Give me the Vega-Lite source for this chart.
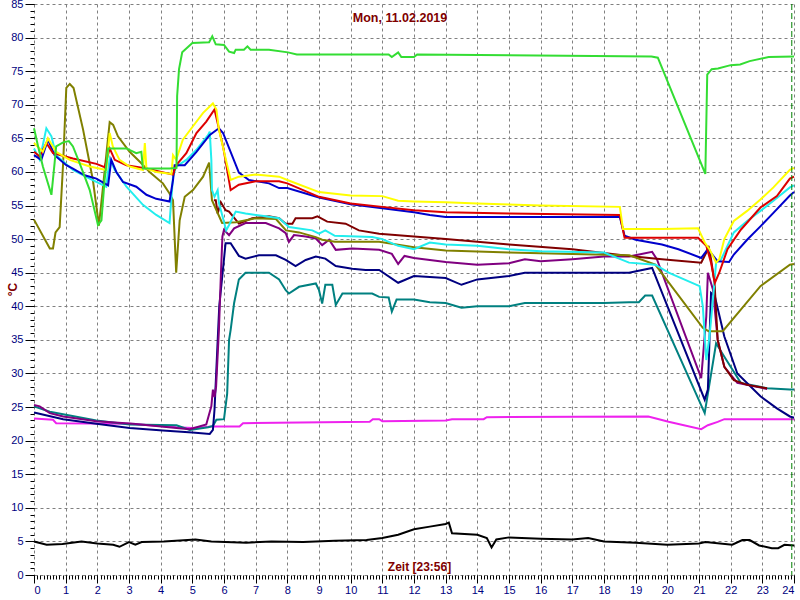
{
"$schema": "https://vega.github.io/schema/vega-lite/v6.json",
"width": 760, "height": 571,
"autosize": {"type": "none"},
"padding": {"left": 34, "top": 4, "right": 6, "bottom": 25},
"background": "white",
"title": {"text": "Mon, 11.02.2019", "color": "#800000", "fontSize": 12.5, "fontWeight": "bold", "font": "Liberation Sans", "offset": 0, "dy": 26, "dx": -14},
"config": {"view": {"stroke": null}, "axis": {"labelFont": "Liberation Sans", "titleFont": "Liberation Sans"}},
"datasets": {
"lines": [
{"s":"T12","h":0,"v":5},{"s":"T12","h":0.4,"v":4.5},{"s":"T12","h":0.9,"v":4.6},{"s":"T12","h":1.5,"v":5},{"s":"T12","h":2,"v":4.7},{"s":"T12","h":2.5,"v":4.5},{"s":"T12","h":2.7,"v":4.2},{"s":"T12","h":3,"v":4.9},{"s":"T12","h":3.2,"v":4.5},{"s":"T12","h":3.4,"v":4.9},{"s":"T12","h":4.1,"v":5},{"s":"T12","h":5.1,"v":5.3},{"s":"T12","h":5.6,"v":5},{"s":"T12","h":6.7,"v":4.8},{"s":"T12","h":7.5,"v":5},{"s":"T12","h":8.5,"v":4.9},{"s":"T12","h":9.5,"v":5.1},{"s":"T12","h":10.5,"v":5.2},{"s":"T12","h":11,"v":5.5},{"s":"T12","h":11.5,"v":6},{"s":"T12","h":12,"v":6.8},{"s":"T12","h":12.5,"v":7.2},{"s":"T12","h":13,"v":7.6},{"s":"T12","h":13.1,"v":7.8},{"s":"T12","h":13.2,"v":6.2},{"s":"T12","h":14,"v":6},{"s":"T12","h":14.3,"v":5.5},{"s":"T12","h":14.45,"v":4.1},{"s":"T12","h":14.6,"v":5.3},{"s":"T12","h":15,"v":5.6},{"s":"T12","h":16,"v":5.4},{"s":"T12","h":17,"v":5.3},{"s":"T12","h":17.5,"v":5.5},{"s":"T12","h":18,"v":5},{"s":"T12","h":19,"v":4.8},{"s":"T12","h":20,"v":4.5},{"s":"T12","h":21,"v":4.7},{"s":"T12","h":21.2,"v":4.9},{"s":"T12","h":22.05,"v":4.5},{"s":"T12","h":22.37,"v":5.2},{"s":"T12","h":22.6,"v":5.2},{"s":"T12","h":22.9,"v":4.4},{"s":"T12","h":23.3,"v":4},{"s":"T12","h":23.5,"v":4},{"s":"T12","h":23.7,"v":4.5},{"s":"T12","h":24,"v":4.4},

{"s":"T11","h":0,"v":23.3},{"s":"T11","h":0.6,"v":23.1},{"s":"T11","h":0.7,"v":22.6},{"s":"T11","h":3,"v":22.5},{"s":"T11","h":4.5,"v":22},{"s":"T11","h":5,"v":21.9},{"s":"T11","h":5.65,"v":22.1},{"s":"T11","h":6.49,"v":22.1},{"s":"T11","h":6.6,"v":22.6},{"s":"T11","h":10.6,"v":22.8},{"s":"T11","h":10.7,"v":23.2},{"s":"T11","h":10.9,"v":23.2},{"s":"T11","h":11,"v":22.9},{"s":"T11","h":13,"v":23},{"s":"T11","h":13.2,"v":23.2},{"s":"T11","h":14.2,"v":23.2},{"s":"T11","h":14.3,"v":23.5},{"s":"T11","h":19.4,"v":23.6},{"s":"T11","h":20.04,"v":22.8},{"s":"T11","h":21.07,"v":21.7},{"s":"T11","h":21.28,"v":22.3},{"s":"T11","h":21.59,"v":22.8},{"s":"T11","h":21.8,"v":23.2},{"s":"T11","h":24,"v":23.2},

{"s":"T10","h":0,"v":25.1},{"s":"T10","h":0.5,"v":24.3},{"s":"T10","h":1.97,"v":23},{"s":"T10","h":3.02,"v":22.4},{"s":"T10","h":4.5,"v":22.3},{"s":"T10","h":4.92,"v":21.6},{"s":"T10","h":5.5,"v":22},{"s":"T10","h":5.65,"v":22.2},{"s":"T10","h":5.76,"v":23.1},{"s":"T10","h":6.0,"v":23.2},{"s":"T10","h":6.1,"v":27},{"s":"T10","h":6.16,"v":35},{"s":"T10","h":6.21,"v":36.5},{"s":"T10","h":6.32,"v":40.5},{"s":"T10","h":6.47,"v":44},{"s":"T10","h":6.68,"v":45},{"s":"T10","h":7.42,"v":45},{"s":"T10","h":7.74,"v":44},{"s":"T10","h":7.95,"v":42.4},{"s":"T10","h":8.05,"v":41.9},{"s":"T10","h":8.37,"v":42.9},{"s":"T10","h":8.9,"v":43.4},{"s":"T10","h":9.0,"v":42.4},{"s":"T10","h":9.1,"v":40.4},{"s":"T10","h":9.2,"v":43.2},{"s":"T10","h":9.42,"v":43.2},{"s":"T10","h":9.53,"v":40.2},{"s":"T10","h":9.74,"v":41.9},{"s":"T10","h":10.68,"v":41.9},{"s":"T10","h":10.9,"v":41.4},{"s":"T10","h":11.2,"v":41.3},{"s":"T10","h":11.3,"v":39.2},{"s":"T10","h":11.45,"v":41},{"s":"T10","h":12,"v":41},{"s":"T10","h":12.5,"v":40.6},{"s":"T10","h":13,"v":40.5},{"s":"T10","h":13.5,"v":39.8},{"s":"T10","h":14,"v":40},{"s":"T10","h":15,"v":40},{"s":"T10","h":15.5,"v":40.5},{"s":"T10","h":18,"v":40.5},{"s":"T10","h":18.79,"v":40.6},{"s":"T10","h":19.1,"v":40.6},{"s":"T10","h":19.3,"v":41.6},{"s":"T10","h":19.52,"v":41.6},{"s":"T10","h":21.18,"v":24.1},{"s":"T10","h":21.54,"v":34.5},{"s":"T10","h":21.8,"v":32.5},{"s":"T10","h":22.32,"v":28.6},{"s":"T10","h":23.15,"v":27.8},{"s":"T10","h":23.87,"v":27.6},{"s":"T10","h":24,"v":27.6},

{"s":"T09","h":0,"v":24.2},{"s":"T09","h":0.92,"v":23.2},{"s":"T09","h":1.97,"v":22.5},{"s":"T09","h":3.02,"v":21.9},{"s":"T09","h":4.07,"v":21.5},{"s":"T09","h":5.0,"v":21.2},{"s":"T09","h":5.55,"v":21.0},{"s":"T09","h":5.65,"v":21.6},{"s":"T09","h":5.7,"v":24.6},{"s":"T09","h":5.85,"v":40},{"s":"T09","h":6.05,"v":49.4},{"s":"T09","h":6.21,"v":49.4},{"s":"T09","h":6.47,"v":47.5},{"s":"T09","h":6.68,"v":47.1},{"s":"T09","h":7.1,"v":47.6},{"s":"T09","h":7.64,"v":47.6},{"s":"T09","h":7.95,"v":46.9},{"s":"T09","h":8.26,"v":46},{"s":"T09","h":8.58,"v":46.9},{"s":"T09","h":8.9,"v":47.4},{"s":"T09","h":9.2,"v":47.1},{"s":"T09","h":9.53,"v":46},{"s":"T09","h":10.05,"v":45.6},{"s":"T09","h":10.47,"v":45.4},{"s":"T09","h":10.9,"v":45.4},{"s":"T09","h":11.5,"v":43.5},{"s":"T09","h":12,"v":44.5},{"s":"T09","h":13,"v":44.2},{"s":"T09","h":13.5,"v":43.2},{"s":"T09","h":14,"v":44},{"s":"T09","h":15,"v":44.5},{"s":"T09","h":15.5,"v":45},{"s":"T09","h":17,"v":45},{"s":"T09","h":18.79,"v":45},{"s":"T09","h":19.52,"v":45.7},{"s":"T09","h":21.18,"v":26.1},{"s":"T09","h":21.28,"v":27.6},{"s":"T09","h":21.38,"v":42},{"s":"T09","h":21.5,"v":41.5},{"s":"T09","h":21.8,"v":35.5},{"s":"T09","h":22.21,"v":30},{"s":"T09","h":22.94,"v":26.6},{"s":"T09","h":23.46,"v":24.8},{"s":"T09","h":23.87,"v":23.6},{"s":"T09","h":24,"v":23.4},

{"s":"T08","h":0,"v":25.3},{"s":"T08","h":0.18,"v":25.1},{"s":"T08","h":0.5,"v":24.1},{"s":"T08","h":0.92,"v":23.6},{"s":"T08","h":1.97,"v":22.9},{"s":"T08","h":3.13,"v":22.5},{"s":"T08","h":4.5,"v":21.9},{"s":"T08","h":4.92,"v":21.7},{"s":"T08","h":5.44,"v":22.4},{"s":"T08","h":5.6,"v":25.1},{"s":"T08","h":5.65,"v":27.6},{"s":"T08","h":5.7,"v":26.5},{"s":"T08","h":5.75,"v":28},{"s":"T08","h":5.84,"v":36.5},{"s":"T08","h":5.9,"v":44.5},{"s":"T08","h":5.95,"v":50.4},{"s":"T08","h":6.0,"v":51.4},{"s":"T08","h":6.16,"v":50.6},{"s":"T08","h":6.32,"v":51.6},{"s":"T08","h":6.68,"v":52.4},{"s":"T08","h":7.32,"v":52.4},{"s":"T08","h":7.74,"v":51.6},{"s":"T08","h":7.95,"v":50.9},{"s":"T08","h":8.05,"v":49.6},{"s":"T08","h":8.21,"v":50.6},{"s":"T08","h":8.58,"v":50.4},{"s":"T08","h":8.9,"v":50.1},{"s":"T08","h":9.1,"v":49.1},{"s":"T08","h":9.32,"v":49.9},{"s":"T08","h":9.53,"v":48.4},{"s":"T08","h":10.05,"v":48.6},{"s":"T08","h":10.9,"v":48.4},{"s":"T08","h":11.3,"v":47.8},{"s":"T08","h":11.5,"v":46.3},{"s":"T08","h":11.7,"v":47.5},{"s":"T08","h":12,"v":47.2},{"s":"T08","h":13,"v":46.6},{"s":"T08","h":14,"v":46.2},{"s":"T08","h":15,"v":46.4},{"s":"T08","h":15.5,"v":47},{"s":"T08","h":16,"v":46.7},{"s":"T08","h":17,"v":47},{"s":"T08","h":18,"v":47.4},{"s":"T08","h":18.79,"v":47.4},{"s":"T08","h":19.52,"v":48.1},{"s":"T08","h":19.67,"v":47},{"s":"T08","h":21.07,"v":29.3},{"s":"T08","h":21.23,"v":38.5},{"s":"T08","h":21.28,"v":45},{"s":"T08","h":21.44,"v":42.5},{"s":"T08","h":21.59,"v":35},{"s":"T08","h":21.8,"v":31},{"s":"T08","h":22.21,"v":28.6},{"s":"T08","h":23.15,"v":27.7},

{"s":"T07","h":5.68,"v":55.8},{"s":"T07","h":5.74,"v":55.8},{"s":"T07","h":5.8,"v":53.8},{"s":"T07","h":5.9,"v":55.5},{"s":"T07","h":6.05,"v":54.3},{"s":"T07","h":6.16,"v":54.1},{"s":"T07","h":6.47,"v":52.3},{"s":"T07","h":6.89,"v":53.1},{"s":"T07","h":7.42,"v":53.4},{"s":"T07","h":7.74,"v":53.1},{"s":"T07","h":7.95,"v":52.3},{"s":"T07","h":8.16,"v":52.3},{"s":"T07","h":8.26,"v":53.1},{"s":"T07","h":8.79,"v":53.1},{"s":"T07","h":8.95,"v":53.4},{"s":"T07","h":9.26,"v":52.6},{"s":"T07","h":9.84,"v":52.3},{"s":"T07","h":10.26,"v":51.3},{"s":"T07","h":10.9,"v":50.8},{"s":"T07","h":13,"v":50},{"s":"T07","h":15,"v":49.2},{"s":"T07","h":17,"v":48.5},{"s":"T07","h":18.79,"v":47.5},{"s":"T07","h":19.83,"v":47},{"s":"T07","h":21.07,"v":46.5},{"s":"T07","h":21.23,"v":48},{"s":"T07","h":21.3,"v":49},{"s":"T07","h":21.38,"v":47},{"s":"T07","h":21.49,"v":43.5},{"s":"T07","h":21.59,"v":35},{"s":"T07","h":21.8,"v":31},{"s":"T07","h":22.1,"v":29},{"s":"T07","h":22.52,"v":28.3},{"s":"T07","h":23.15,"v":27.8},

{"s":"T06","h":0,"v":52.9},{"s":"T06","h":0.5,"v":48.6},{"s":"T06","h":0.6,"v":48.6},{"s":"T06","h":0.68,"v":51},{"s":"T06","h":0.81,"v":51.8},{"s":"T06","h":0.92,"v":61.3},{"s":"T06","h":1.02,"v":72.5},{"s":"T06","h":1.13,"v":73.1},{"s":"T06","h":1.25,"v":72.5},{"s":"T06","h":1.55,"v":66.3},{"s":"T06","h":1.86,"v":58.8},{"s":"T06","h":2.05,"v":52},{"s":"T06","h":2.18,"v":57.8},{"s":"T06","h":2.39,"v":67.4},{"s":"T06","h":2.5,"v":67},{"s":"T06","h":2.65,"v":65.3},{"s":"T06","h":3.02,"v":63},{"s":"T06","h":3.39,"v":61.3},{"s":"T06","h":3.65,"v":60},{"s":"T06","h":4.07,"v":58.3},{"s":"T06","h":4.28,"v":56.8},{"s":"T06","h":4.39,"v":55.8},{"s":"T06","h":4.49,"v":45},{"s":"T06","h":4.6,"v":52.8},{"s":"T06","h":4.76,"v":56.3},{"s":"T06","h":5.02,"v":57.3},{"s":"T06","h":5.34,"v":59.3},{"s":"T06","h":5.53,"v":61.4},{"s":"T06","h":5.62,"v":55.8},{"s":"T06","h":5.94,"v":52.4},{"s":"T06","h":6.38,"v":52.5},{"s":"T06","h":7.0,"v":53.1},{"s":"T06","h":7.64,"v":53},{"s":"T06","h":7.96,"v":51.3},{"s":"T06","h":8.37,"v":51},{"s":"T06","h":8.9,"v":50.3},{"s":"T06","h":9.1,"v":49.9},{"s":"T06","h":9.5,"v":49.6},{"s":"T06","h":10.9,"v":49.6},{"s":"T06","h":12,"v":48.8},{"s":"T06","h":13,"v":48.3},{"s":"T06","h":15,"v":48},{"s":"T06","h":17,"v":47.8},{"s":"T06","h":18.8,"v":47.6},{"s":"T06","h":19.62,"v":46.2},{"s":"T06","h":21.12,"v":36.8},{"s":"T06","h":21.3,"v":36.3},{"s":"T06","h":21.75,"v":36.3},{"s":"T06","h":22.94,"v":43},{"s":"T06","h":23.87,"v":46.2},{"s":"T06","h":24,"v":46.3},

{"s":"T05","h":0,"v":63.5},{"s":"T05","h":0.18,"v":61.8},{"s":"T05","h":0.39,"v":66.5},{"s":"T05","h":0.55,"v":65.3},{"s":"T05","h":0.7,"v":62.5},{"s":"T05","h":1.23,"v":60.3},{"s":"T05","h":1.76,"v":59},{"s":"T05","h":2.28,"v":57.8},{"s":"T05","h":2.39,"v":62},{"s":"T05","h":2.55,"v":60.3},{"s":"T05","h":2.92,"v":57.8},{"s":"T05","h":3.44,"v":55.1},{"s":"T05","h":3.86,"v":53.6},{"s":"T05","h":4.28,"v":52.4},{"s":"T05","h":4.39,"v":59.3},{"s":"T05","h":4.49,"v":60.8},{"s":"T05","h":4.81,"v":61.8},{"s":"T05","h":5.13,"v":63.3},{"s":"T05","h":5.5,"v":65.5},{"s":"T05","h":5.55,"v":66},{"s":"T05","h":5.6,"v":61.8},{"s":"T05","h":5.62,"v":57.3},{"s":"T05","h":5.7,"v":56.3},{"s":"T05","h":5.8,"v":57.3},{"s":"T05","h":5.84,"v":55.4},{"s":"T05","h":6.07,"v":51.3},{"s":"T05","h":6.16,"v":52.1},{"s":"T05","h":6.37,"v":54.1},{"s":"T05","h":6.68,"v":53.8},{"s":"T05","h":7.32,"v":53.4},{"s":"T05","h":7.74,"v":53.1},{"s":"T05","h":8.05,"v":51.8},{"s":"T05","h":8.79,"v":51.3},{"s":"T05","h":9.0,"v":50.8},{"s":"T05","h":9.2,"v":51.3},{"s":"T05","h":9.5,"v":50.5},{"s":"T05","h":10.68,"v":50.3},{"s":"T05","h":11,"v":50},{"s":"T05","h":11.5,"v":49},{"s":"T05","h":12,"v":48.5},{"s":"T05","h":12.5,"v":49.5},{"s":"T05","h":13,"v":49.2},{"s":"T05","h":14,"v":49},{"s":"T05","h":15,"v":48.5},{"s":"T05","h":16,"v":48.2},{"s":"T05","h":18,"v":48},{"s":"T05","h":18.79,"v":46.5},{"s":"T05","h":19.62,"v":46.2},{"s":"T05","h":20.04,"v":45},{"s":"T05","h":21.02,"v":43},{"s":"T05","h":21.12,"v":40},{"s":"T05","h":21.23,"v":32},{"s":"T05","h":21.33,"v":35.5},{"s":"T05","h":21.44,"v":41},{"s":"T05","h":21.54,"v":46.5},{"s":"T05","h":21.7,"v":47},{"s":"T05","h":22.1,"v":51},{"s":"T05","h":22.52,"v":52.7},{"s":"T05","h":22.94,"v":54.2},{"s":"T05","h":23.35,"v":55.7},{"s":"T05","h":23.87,"v":57.7},{"s":"T05","h":24,"v":58},

{"s":"T04","h":0,"v":62.5},{"s":"T04","h":0.23,"v":61.8},{"s":"T04","h":0.44,"v":64.8},{"s":"T04","h":0.65,"v":62.5},{"s":"T04","h":1.02,"v":61},{"s":"T04","h":1.23,"v":60.5},{"s":"T04","h":1.6,"v":59.5},{"s":"T04","h":1.97,"v":59},{"s":"T04","h":2.34,"v":58},{"s":"T04","h":2.44,"v":61.8},{"s":"T04","h":2.6,"v":60},{"s":"T04","h":2.81,"v":58.5},{"s":"T04","h":3.23,"v":57.8},{"s":"T04","h":3.55,"v":56.6},{"s":"T04","h":3.86,"v":56},{"s":"T04","h":4.28,"v":55.6},{"s":"T04","h":4.39,"v":58.8},{"s":"T04","h":4.44,"v":61},{"s":"T04","h":4.76,"v":61},{"s":"T04","h":5.13,"v":63},{"s":"T04","h":5.55,"v":65.5},{"s":"T04","h":5.84,"v":66.5},{"s":"T04","h":5.97,"v":65.8},{"s":"T04","h":6.47,"v":59.9},{"s":"T04","h":6.79,"v":58.8},{"s":"T04","h":7.42,"v":58.3},{"s":"T04","h":7.74,"v":57.6},{"s":"T04","h":8,"v":57.6},{"s":"T04","h":9,"v":56.2},{"s":"T04","h":10,"v":55.2},{"s":"T04","h":11,"v":54.6},{"s":"T04","h":12,"v":54},{"s":"T04","h":12.5,"v":53.6},{"s":"T04","h":13,"v":53.3},{"s":"T04","h":18.5,"v":53.3},{"s":"T04","h":18.65,"v":50.5},{"s":"T04","h":19,"v":49.9},{"s":"T04","h":19.83,"v":49.2},{"s":"T04","h":20.35,"v":48.5},{"s":"T04","h":21.07,"v":47.2},{"s":"T04","h":21.28,"v":48.5},{"s":"T04","h":21.59,"v":46.7},{"s":"T04","h":21.95,"v":46.6},{"s":"T04","h":22.1,"v":47.7},{"s":"T04","h":22.52,"v":49.9},{"s":"T04","h":22.94,"v":51.9},{"s":"T04","h":23.35,"v":53.9},{"s":"T04","h":23.87,"v":56.5},{"s":"T04","h":24,"v":57},

{"s":"T03","h":0,"v":63},{"s":"T03","h":0.18,"v":62.3},{"s":"T03","h":0.39,"v":64.3},{"s":"T03","h":0.6,"v":62.8},{"s":"T03","h":1.23,"v":62},{"s":"T03","h":1.97,"v":61.2},{"s":"T03","h":2.23,"v":60.7},{"s":"T03","h":2.39,"v":63.5},{"s":"T03","h":2.55,"v":61.8},{"s":"T03","h":2.92,"v":61},{"s":"T03","h":3.55,"v":60.5},{"s":"T03","h":4.39,"v":59.6},{"s":"T03","h":4.49,"v":61},{"s":"T03","h":4.81,"v":62.8},{"s":"T03","h":5.13,"v":65.8},{"s":"T03","h":5.44,"v":67.5},{"s":"T03","h":5.7,"v":69.3},{"s":"T03","h":5.97,"v":63.8},{"s":"T03","h":6.21,"v":57.3},{"s":"T03","h":6.47,"v":58.1},{"s":"T03","h":7.0,"v":58.6},{"s":"T03","h":7.74,"v":58.6},{"s":"T03","h":8,"v":58.3},{"s":"T03","h":9,"v":56.3},{"s":"T03","h":10,"v":55.3},{"s":"T03","h":11,"v":54.8},{"s":"T03","h":12,"v":54.3},{"s":"T03","h":13,"v":54},{"s":"T03","h":15,"v":53.8},{"s":"T03","h":18.5,"v":53.6},{"s":"T03","h":18.65,"v":50.2},{"s":"T03","h":20.97,"v":50.2},{"s":"T03","h":21.23,"v":49},{"s":"T03","h":21.38,"v":46.5},{"s":"T03","h":21.5,"v":43.5},{"s":"T03","h":21.64,"v":45},{"s":"T03","h":21.9,"v":48.5},{"s":"T03","h":22.32,"v":51.4},{"s":"T03","h":22.94,"v":54.7},{"s":"T03","h":23.46,"v":56.4},{"s":"T03","h":23.87,"v":59},{"s":"T03","h":24,"v":59.3},

{"s":"T02","h":0,"v":64.3},{"s":"T02","h":0.28,"v":63},{"s":"T02","h":0.44,"v":65},{"s":"T02","h":0.7,"v":63},{"s":"T02","h":1.13,"v":61.8},{"s":"T02","h":1.76,"v":60.8},{"s":"T02","h":2.28,"v":60.3},{"s":"T02","h":2.39,"v":65.8},{"s":"T02","h":2.49,"v":63.8},{"s":"T02","h":2.7,"v":61.8},{"s":"T02","h":3.02,"v":60.8},{"s":"T02","h":3.44,"v":60.3},{"s":"T02","h":3.5,"v":64.3},{"s":"T02","h":3.55,"v":60.5},{"s":"T02","h":3.86,"v":60},{"s":"T02","h":4.34,"v":59.7},{"s":"T02","h":4.39,"v":62.5},{"s":"T02","h":4.49,"v":61.8},{"s":"T02","h":4.7,"v":64.8},{"s":"T02","h":5.02,"v":66.8},{"s":"T02","h":5.34,"v":68.8},{"s":"T02","h":5.65,"v":70.2},{"s":"T02","h":5.76,"v":69.3},{"s":"T02","h":5.84,"v":66.3},{"s":"T02","h":6.21,"v":58.8},{"s":"T02","h":6.47,"v":59.3},{"s":"T02","h":7.0,"v":59.6},{"s":"T02","h":7.74,"v":59.3},{"s":"T02","h":8,"v":58.8},{"s":"T02","h":9,"v":57},{"s":"T02","h":10,"v":56.5},{"s":"T02","h":11,"v":56.4},{"s":"T02","h":11.5,"v":55.7},{"s":"T02","h":12,"v":55.6},{"s":"T02","h":13,"v":55.5},{"s":"T02","h":14,"v":55.3},{"s":"T02","h":16,"v":55},{"s":"T02","h":18.5,"v":54.8},{"s":"T02","h":18.6,"v":51.5},{"s":"T02","h":19.83,"v":51.5},{"s":"T02","h":20.97,"v":51.6},{"s":"T02","h":21.18,"v":49.5},{"s":"T02","h":21.33,"v":48.5},{"s":"T02","h":21.54,"v":46.5},{"s":"T02","h":21.64,"v":47},{"s":"T02","h":21.8,"v":50},{"s":"T02","h":22.1,"v":52.7},{"s":"T02","h":22.52,"v":54.2},{"s":"T02","h":22.94,"v":55.9},{"s":"T02","h":23.35,"v":57.7},{"s":"T02","h":23.87,"v":60.3},{"s":"T02","h":24,"v":60.6},

{"s":"T01","h":0,"v":66.5},{"s":"T01","h":0.13,"v":63.8},{"s":"T01","h":0.28,"v":60.8},{"s":"T01","h":0.55,"v":56.6},{"s":"T01","h":0.65,"v":61.3},{"s":"T01","h":0.7,"v":63.8},{"s":"T01","h":0.92,"v":64.4},{"s":"T01","h":1.1,"v":64.6},{"s":"T01","h":1.23,"v":63.8},{"s":"T01","h":1.44,"v":61.3},{"s":"T01","h":1.76,"v":57.3},{"s":"T01","h":2.02,"v":52.1},{"s":"T01","h":2.13,"v":52.8},{"s":"T01","h":2.23,"v":58.8},{"s":"T01","h":2.34,"v":63.5},{"s":"T01","h":2.92,"v":63.5},{"s":"T01","h":3.23,"v":62.8},{"s":"T01","h":3.39,"v":63},{"s":"T01","h":3.44,"v":60.5},{"s":"T01","h":3.86,"v":60.5},{"s":"T01","h":4.28,"v":60.5},{"s":"T01","h":4.5,"v":60.6},{"s":"T01","h":4.52,"v":71.3},{"s":"T01","h":4.58,"v":75.3},{"s":"T01","h":4.68,"v":77.8},{"s":"T01","h":5.0,"v":79.2},{"s":"T01","h":5.53,"v":79.3},{"s":"T01","h":5.63,"v":80.2},{"s":"T01","h":5.74,"v":79},{"s":"T01","h":6.0,"v":78.9},{"s":"T01","h":6.16,"v":77.9},{"s":"T01","h":6.32,"v":77.7},{"s":"T01","h":6.37,"v":78.2},{"s":"T01","h":6.63,"v":78.2},{"s":"T01","h":6.74,"v":78.7},{"s":"T01","h":6.84,"v":78.2},{"s":"T01","h":7.42,"v":78.2},{"s":"T01","h":8.02,"v":77.8},{"s":"T01","h":8.3,"v":77.5},{"s":"T01","h":11.2,"v":77.5},{"s":"T01","h":11.3,"v":77.1},{"s":"T01","h":11.5,"v":77.8},{"s":"T01","h":11.6,"v":77.1},{"s":"T01","h":12.0,"v":77.1},{"s":"T01","h":12.1,"v":77.5},{"s":"T01","h":19.5,"v":77.2},{"s":"T01","h":19.7,"v":77},{"s":"T01","h":21.2,"v":59.7},{"s":"T01","h":21.26,"v":74.5},{"s":"T01","h":21.4,"v":75.3},{"s":"T01","h":21.6,"v":75.4},{"s":"T01","h":22.0,"v":75.9},{"s":"T01","h":22.3,"v":76},{"s":"T01","h":22.6,"v":76.5},{"s":"T01","h":23.2,"v":77.1},{"s":"T01","h":24,"v":77.2}
],
"marker": [{"t": 23.93}],
"base": [{"v": 0}]
},
"layer": [
{
"data": {"name": "lines"},
"mark": {"type": "line", "strokeWidth": 2, "interpolate": "linear"},
"encoding": {
"x": {"field": "h", "type": "quantitative", "scale": {"domain": [0, 24], "nice": false, "zero": false},
"axis": {"orient": "bottom", "values": [0,1,2,3,4,5,6,7,8,9,10,11,12,13,14,15,16,17,18,19,20,21,22,23,24], "format": "d", "labelColor": "#000080", "labelFontSize": 11, "labelPadding": 1, "tickSize": 8, "tickColor": "#000000", "domain": false, "grid": true, "gridDash": [3, 3], "gridColor": "#808080", "gridWidth": 1, "title": "Zeit [23:56]", "titleColor": "#800000", "titleFontSize": 12, "titleFontWeight": "bold", "titleY": -2, "titleBaseline": "bottom", "titleX": 385, "titleAnchor": "middle"}},
"y": {"field": "v", "type": "quantitative", "scale": {"domain": [0, 85], "nice": false},
"axis": {"orient": "left", "values": [0,5,10,15,20,25,30,35,40,45,50,55,60,65,70,75,80,85], "labelColor": "#000080", "labelFontSize": 11, "labelPadding": 2, "tickSize": 9, "tickColor": "#000000", "domain": false, "grid": true, "gridDash": [3, 3], "gridColor": "#808080", "gridWidth": 1, "title": "°C", "titleColor": "#800000", "titleFontSize": 12, "titleFontWeight": "bold", "titleX": -22, "titleY": 285, "titleAngle": 270, "titleBaseline": "middle"}},
"color": {"field": "s", "type": "nominal", "legend": null,
"scale": {"domain": ["T01","T02","T03","T04","T05","T06","T07","T08","T09","T10","T11","T12"],
"range": ["#33dd33","#ffff00","#dd0000","#0000cc","#22eeee","#808000","#800000","#800080","#000080","#008080","#ee22ee","#000000"]}},
"order": {"field": "h", "type": "quantitative"}
}
},
{
"data": {"name": "marker"},
"mark": {"type": "rule", "color": "#008000", "strokeDash": [6, 3], "strokeWidth": 1},
"encoding": {
"x": {"field": "t", "type": "quantitative",
"axis": {"orient": "bottom", "tickCount": 240, "labels": false, "tickSize": 4, "tickColor": "#000000", "domain": false, "grid": false, "title": null}}
}
},
{
"data": {"name": "base"},
"mark": {"type": "rule", "strokeOpacity": 0},
"encoding": {
"y": {"field": "v", "type": "quantitative",
"axis": {"orient": "left", "tickCount": 85, "labels": false, "tickSize": 4, "tickColor": "#000000", "domain": false, "grid": false, "title": null}}
}
}
],
"resolve": {"axis": {"x": "independent", "y": "independent"}}
}
